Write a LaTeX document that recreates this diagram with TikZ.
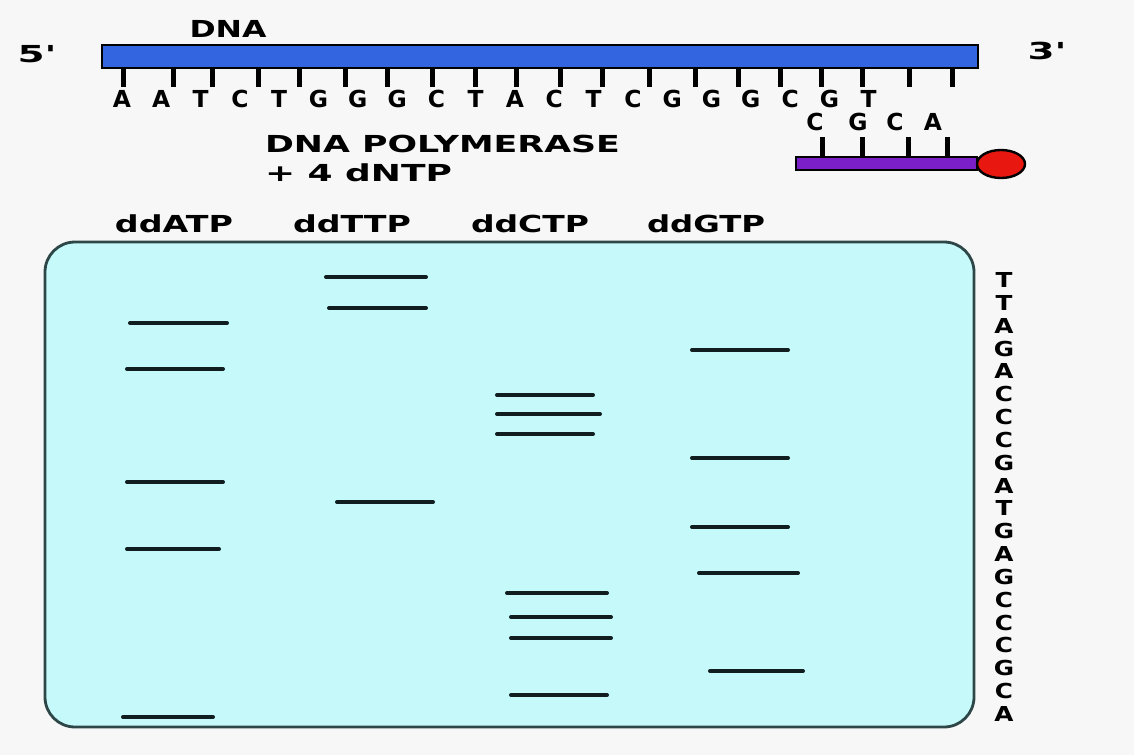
\documentclass[tikz,border=0pt]{standalone}
\usepackage{fontspec}
\setmainfont{DejaVu Sans}
\usepackage{graphicx}
\usetikzlibrary{shapes.geometric}
\definecolor{bgcol}{RGB}{247,247,247}
\definecolor{gelcol}{RGB}{198,250,250}
\definecolor{gelborder}{RGB}{45,70,72}
\definecolor{dnablue}{RGB}{52,101,224}
\definecolor{primerpurple}{RGB}{123,31,200}
\definecolor{dyered}{RGB}{232,24,16}
\definecolor{bandcol}{RGB}{16,30,32}
\newcommand\bigf{\fontsize{11.7pt}{12pt}\selectfont\bfseries}
\newcommand\colf{\fontsize{10.3pt}{11pt}\selectfont\bfseries}
\tikzset{
  txt/.style={inner sep=0pt, outer sep=0pt, font=\bigf},
  coltxt/.style={inner sep=0pt, outer sep=0pt, font=\colf},
  basetick/.style={line width=2.5pt, black},
  band/.style={line width=2pt, bandcol, line cap=round},
}
\begin{document}
\begin{tikzpicture}[x=0.5pt,y=-0.5pt]
\fill[bgcol] (0,0) rectangle (1134,755);
\useasboundingbox (0,0) rectangle (1134,755);

% template strand
\node[txt] (dnalabel) at (228,29) {\resizebox{38.5pt}{\height}{DNA}};
\node[txt] (five) at (37,54) {\resizebox{19.5pt}{\height}{5\textquotesingle}};
\node[txt] (three) at (1047,51) {\resizebox{19.5pt}{\height}{3\textquotesingle}};
\foreach \x in {123,173,212,258,299,345,387,432,475,516,560,602,649,695,738,780,821,862,909,952}
  \draw[basetick] (\x,67) -- (\x,87);
\draw[line width=1.2pt, fill=dnablue] (102,45) rectangle (978,68);
\foreach \l [count=\i from 0] in {A,A,T,C,T,G,G,G,C,T,A,C,T,C,G,G,G,C,G,T}
  \node[txt] (top\i) at ({122+39.3*\i},98.5) {\l};

% primer
\foreach \x in {822,862,908,947}
  \draw[basetick] (\x,137) -- (\x,158);
\draw[line width=1.2pt, fill=primerpurple] (796,157) rectangle (977,170);
\node[draw=black, line width=1.2pt, fill=dyered, ellipse, minimum width=24pt, minimum height=14pt, inner sep=0pt] (dye) at (1001,164) {};
\foreach \l/\x [count=\i] in {C/815,G/858,C/895,A/933}
  \node[txt] (pr\i) at (\x,121.5) {\l};

% reaction text
\node[txt, anchor=west] (pol) at (265,144) {\resizebox{177.5pt}{\height}{DNA POLYMERASE}};
\node[txt, anchor=west] (dntp) at (265,173) {\resizebox{93.5pt}{\height}{+ 4 dNTP}};

% lane labels
\foreach \t/\x [count=\i] in {ddATP/174,ddTTP/352,ddCTP/530,ddGTP/706}
  \node[txt] (lane\i) at (\x,223.5) {\resizebox{59pt}{\height}{\t}};

% gel
\draw[gelborder, line width=1.4pt, fill=gelcol, rounded corners=15pt] (45,242) rectangle (974,727);

% bands
\foreach \a/\b/\y in {130/227/323,127/223/369,127/223/482,127/219/549,123/213/717,
  326/426/277,329/426/308,337/433/502,
  497/593/395,497/600/414,497/593/434,507/607/593,511/611/617,511/611/638,511/607/695,
  692/788/350,692/788/458,692/788/527,699/798/573,710/803/671}
  \draw[band] (\a,\y) -- (\b,\y);

% read sequence
\foreach \l [count=\i from 0] in {T,T,A,G,A,C,C,C,G,A,T,G,A,G,C,C,C,G,C,A}
  \node[coltxt] (rd\i) at (1004,{280+22.84*\i}) {\scalebox{1.2}[1]{\l}};
\end{tikzpicture}
\end{document}
